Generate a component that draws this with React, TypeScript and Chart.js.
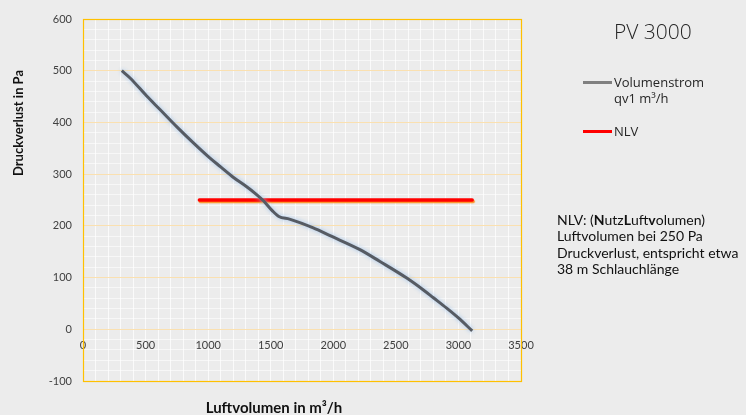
import React, { useEffect, useRef } from 'react';
import { Chart, registerables } from 'chart.js';

Chart.register(...registerables);

// ---- data ----
const airflow = [310, 376, 509, 615, 748, 880, 1015, 1100, 1200, 1300, 1380, 1440, 1510, 1565, 1650, 1840, 1974, 2213, 2373, 2587, 2720, 2800, 2906, 3000, 3110];
const pressure = [500, 486, 451, 425, 392, 361, 331, 314, 294, 277, 262, 249, 230, 218, 213, 196, 181, 154, 131, 99, 76, 61, 41, 22, -3];
const nlvAirflow = [930, 3110];
const nlvPressure = [250, 250];

const xTickLabels = [0, 500, 1000, 1500, 2000, 2500, 3000, 3500];
const yTickLabels = [-100, 0, 100, 200, 300, 400, 500, 600];

const seriesNames = ['Volumenstrom qv1 m³/h', 'NLV'];
const xTitle = 'Luftvolumen in m³/h';
const yTitle = 'Druckverlust in Pa';
const chartTitle = 'PV 3000';
const noteLines = [
  [['NLV: (', false], ['N', true], ['utz', false], ['L', true], ['uft', false], ['v', true], ['olumen)', false]],
  [['Luftvolumen bei 250 Pa', false]],
  [['Druckverlust, entspricht etwa', false]],
  [['38 m Schlauchlänge', false]],
] as [string, boolean][][];

const BG = '#ececec';

const shadowPlugin = {
  id: 'lineShadow',
  beforeDatasetDraw(chart: any, args: any) {
    const ctx = chart.ctx;
    ctx.save();
    if (args.index === 0) {
      ctx.shadowColor = 'rgba(150,190,235,0.9)';
      ctx.shadowBlur = 4;
    } else {
      ctx.shadowColor = 'rgba(255,130,0,0.85)';
      ctx.shadowBlur = 1;
      ctx.shadowOffsetX = 1;
      ctx.shadowOffsetY = 1.5;
    }
  },
  afterDatasetDraw(chart: any) {
    chart.ctx.restore();
  },
};

const borderPlugin = {
  id: 'areaBorder',
  beforeDatasetsDraw(chart: any) {
    const { ctx, chartArea: a } = chart;
    ctx.save();
    ctx.strokeStyle = '#ffc000';
    ctx.lineWidth = 1.2;
    ctx.strokeRect(Math.round(a.left) + 0.5, Math.round(a.top) + 0.5, Math.round(a.right - a.left), Math.round(a.bottom - a.top));
    ctx.restore();
  },
};

const textPlugin = {
  id: 'texts',
  afterDraw(chart: any) {
    const ctx = chart.ctx;
    ctx.save();
    // y axis title
    ctx.fillStyle = '#111';
    ctx.font = 'bold 13px Lato';
    ctx.textAlign = 'center';
    ctx.textBaseline = 'middle';
    ctx.save();
    ctx.translate(19, 123);
    ctx.rotate(-Math.PI / 2);
    ctx.fillText(yTitle, 0, 0);
    ctx.restore();
    // x axis title
    ctx.font = 'bold 15px Lato';
    ctx.fillText(xTitle, 274, 408);
    // chart title
    ctx.fillStyle = '#262626';
    ctx.font = '300 21px "Open Sans"';
    ctx.textAlign = 'left';
    ctx.fillText(chartTitle, 614, 33);
    // legend
    ctx.lineWidth = 3;
    ctx.strokeStyle = '#808080';
    ctx.beginPath();
    ctx.moveTo(583, 82.5);
    ctx.lineTo(612, 82.5);
    ctx.stroke();
    ctx.strokeStyle = '#ff0000';
    ctx.beginPath();
    ctx.moveTo(583, 131.5);
    ctx.lineTo(612, 131.5);
    ctx.stroke();
    ctx.font = '13px "Open Sans"';
    ctx.fillStyle = '#262626';
    const [l1, ...rest] = seriesNames[0].split(' ');
    ctx.fillText(l1, 614, 83);
    ctx.fillText(rest.join(' '), 614, 99.5);
    ctx.fillText(seriesNames[1], 614, 132);
    // note
    ctx.fillStyle = '#111';
    noteLines.forEach((line, i) => {
      let x = 557;
      const y = 220 + i * 16.6;
      line.forEach(([t, b]) => {
        ctx.font = (b ? 'bold ' : '') + '14px Lato';
        ctx.fillText(t, x, y);
        x += ctx.measureText(t).width;
      });
    });
    ctx.restore();
  },
};

export default function App() {
  const ref = useRef<HTMLCanvasElement>(null);
  useEffect(() => {
    if (!ref.current) return;
    const chart = new Chart(ref.current, {
      type: 'line',
      data: {
        datasets: [
          {
            label: seriesNames[0],
            data: airflow.map((x, i) => ({ x, y: pressure[i] })),
            borderColor: '#565b63',
            borderWidth: 3,
            pointRadius: 0,
            cubicInterpolationMode: 'monotone',
          },
          {
            label: seriesNames[1],
            data: nlvAirflow.map((x, i) => ({ x, y: nlvPressure[i] })),
            borderColor: '#ff0000',
            borderWidth: 3.5,
            pointRadius: 0,
            borderCapStyle: 'round',
          },
        ],
      },
      options: {
        animation: false,
        responsive: false,
        layout: { padding: { left: 0, top: 19, right: 225, bottom: 34 } },
        plugins: { legend: { display: false }, tooltip: { enabled: false }, title: { display: false } },
        scales: {
          x: {
            type: 'linear',
            position: { y: 0 } as any,
            min: 0,
            max: 3500,
            border: { display: false },
            grid: {
              drawTicks: false,
              color: 'rgba(255,255,255,0.75)',
              lineWidth: 1,
            },
            ticks: {
              stepSize: 100,
              autoSkip: false,
              maxRotation: 0,
              padding: 10,
              color: '#404040',
              font: { family: 'Lato', size: 11 },
              callback: (v: any) => (xTickLabels.includes(Math.round(Number(v))) ? String(Math.round(Number(v))) : ''),
            },
          },
          y: {
            type: 'linear',
            position: 'left',
            min: -100,
            max: 600,
            border: { display: false },
            afterFit: (s: any) => {
              s.width = 83;
            },
            grid: {
              drawTicks: false,
              color: (c: any) => (Math.round(c.tick.value) % 100 === 0 ? '#fae0b0' : 'rgba(255,255,255,0.6)'),
              lineWidth: 1,
            },
            ticks: {
              stepSize: 20,
              autoSkip: false,
              padding: 11,
              color: '#404040',
              font: { family: 'Lato', size: 11 },
              callback: (v: any) => (yTickLabels.includes(Math.round(Number(v))) ? String(Math.round(Number(v))) : ''),
            },
          },
        },
      },
      plugins: [borderPlugin, shadowPlugin, textPlugin],
    } as any);
    return () => chart.destroy();
  }, []);
  return (
    <div style={{ position: 'fixed', left: 0, top: 0, width: 746, height: 415, background: BG }}>
      <canvas ref={ref} width={746} height={415} />
    </div>
  );
}
